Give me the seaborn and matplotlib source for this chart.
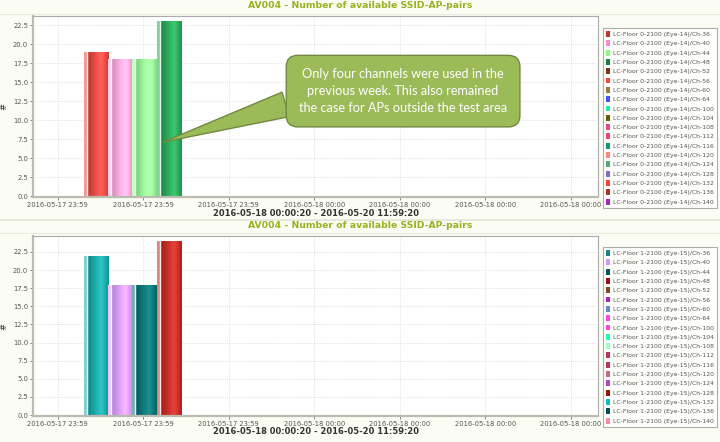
import matplotlib
matplotlib.use("Agg")
import matplotlib.pyplot as plt
from matplotlib.patches import Patch
from matplotlib.colors import to_rgb
import numpy as np
import pandas as pd
import seaborn as sns

# ---------------------------
# data
# ---------------------------
title = "AV004 - Number of available SSID-AP-pairs"
period = "2016-05-18 00:00:20 - 2016-05-20 11:59:20"
tick_labels = ["2016-05-17 23:59"] * 3 + ["2016-05-18 00:00"] * 4
tick_pos = [0, 1, 2, 3, 4, 5, 6]

channels = ["36", "40", "44", "48", "52", "56", "60", "64", "100", "104",
            "108", "112", "116", "120", "124", "128", "132", "136", "140"]

# bar slots on the time axis (tick units)
slots = [0.446, 0.731, 1.016, 1.301]

floor0_channels = ["36", "40", "44", "48"]
floor0_counts = [19, 18, 18, 23]
floor0_bar_colors = ["#e8433a", "#ffaadf", "#96fb96", "#1fa853"]
floor0_legend_colors = ["#c0362c", "#ff88cc", "#88ff77", "#1a7f3a", "#7a3516",
                        "#ff4433", "#9c7a3c", "#4455ff", "#22eeaa", "#665a00",
                        "#ee4488", "#ee4477", "#119977", "#ff8877", "#55aa77",
                        "#8866cc", "#ff4433", "#aa3322", "#aa22bb"]

floor1_channels = ["36", "40", "44", "48"]
floor1_counts = [22, 18, 18, 24]
floor1_bar_colors = ["#10a8a8", "#dd9cff", "#007272", "#c8241c"]
floor1_legend_colors = ["#118888", "#cc99ff", "#005555", "#991111", "#8a4422",
                        "#aa22bb", "#6688cc", "#ff44ee", "#ff44ee", "#22ffaa",
                        "#99ffbb", "#bb3355", "#bb3355", "#cc6688", "#bb44bb",
                        "#991100", "#11bbcc", "#005555", "#ff88aa"]

note = ("Only four channels were used in the\n"
        "previous week. This also remained\n"
        "the case for APs outside the test area")


def gradient_bars(ax):
    # JFreeChart-like shading: pale sliver, white line, then dark -> light
    t = np.linspace(0, 1, 60)
    for bar in list(ax.patches):
        c = np.array(to_rgb(bar.get_facecolor()))
        white = np.ones(3)
        cols = []
        for v in t:
            if v < 0.11:
                cols.append(c * 0.55 + white * 0.45)
            elif v < 0.16:
                cols.append(white)
            elif v < 0.7:
                k = (v - 0.16) / 0.54
                cols.append(c * (0.82 + 0.18 * k) + white * 0.12 * k)
            else:
                k = (v - 0.7) / 0.3
                cols.append(c * (1.0 - 0.12 * k) + white * 0.12 * (1 - k))
        img = np.clip(np.array(cols), 0, 1)[None, :, :]
        x, y = bar.get_x(), bar.get_y()
        w, h = bar.get_width(), bar.get_height()
        im = ax.imshow(img, extent=[x, x + w, y, y + h], aspect="auto",
                       interpolation="bilinear", zorder=bar.get_zorder() + 0.1)
        im.set_clip_path(bar)


# ---------------------------
# figure
# ---------------------------
sns.set_style("white")
plt.rcParams["font.family"] = ["DejaVu Sans"]

W, H = 720, 442
fig = plt.figure(figsize=(7.2, 4.42), dpi=100, facecolor="#fbfcf3")

panels = [
    dict(floor="0", eye="14", chans=floor0_channels, counts=floor0_counts,
         bar_colors=floor0_bar_colors, legend_colors=floor0_legend_colors,
         top=16, bottom=197, ymax=23.7, title_y=5, xlabel_y=213, leg_top=28),
    dict(floor="1", eye="15", chans=floor1_channels, counts=floor1_counts,
         bar_colors=floor1_bar_colors, legend_colors=floor1_legend_colors,
         top=236, bottom=416, ymax=24.7, title_y=226, xlabel_y=432, leg_top=247),
]

axes = []
for p in panels:
    ax = fig.add_axes([33 / W, 1 - p["bottom"] / H, 565 / W, (p["bottom"] - p["top"]) / H])
    ax.set_facecolor("white")
    df = pd.DataFrame({"slot": slots, "count": p["counts"], "channel": p["chans"]})
    pal = dict(zip(p["chans"], p["bar_colors"]))
    sns.barplot(data=df, x="slot", y="count", hue="channel", palette=pal,
                native_scale=True, width=1.0, dodge=False, saturation=1,
                legend=False, edgecolor="white", linewidth=0.8, ax=ax)
    gradient_bars(ax)

    ax.set_xlim(-0.29, 6.32)
    ax.set_ylim(-0.12, p["ymax"])
    ax.set_xticks(tick_pos)
    ax.set_xticklabels(tick_labels)
    ax.set_yticks([i * 2.5 for i in range(10)])
    ax.set_yticklabels([f"{i * 2.5:.1f}" for i in range(10)])
    ax.tick_params(axis="both", labelsize=4.9, colors="#555555", length=2,
                   width=0.5, pad=1.5, direction="out", bottom=True, left=True)
    ax.grid(True, color="#d8d8d8", linestyle=(0, (1, 1.5)), linewidth=0.6)
    ax.set_axisbelow(True)
    for side, sp in ax.spines.items():
        sp.set_color("#aaaaaa")
        sp.set_linewidth(0.8)
    ax.spines["left"].set_linewidth(1.6)
    ax.spines["bottom"].set_linewidth(1.6)
    ax.spines["left"].set_color("#bbbbb0")
    ax.spines["bottom"].set_color("#bbbbb0")
    ax.set_xlabel("")
    ax.set_ylabel("#", fontsize=6, color="#333333", labelpad=3)

    fig.text(360 / W, 1 - p["title_y"] / H, title, ha="center", va="center",
             fontsize=6.7, fontweight="bold", color="#99b020")
    fig.text(316 / W, 1 - p["xlabel_y"] / H, period, ha="center", va="center",
             fontsize=6, fontweight="bold", color="#333333")

    handles = [Patch(facecolor=c, edgecolor="none") for c in p["legend_colors"]]
    labels = [f"LC-Floor {p['floor']}-2100 (Eye-{p['eye']})/Ch-{c}" for c in channels]
    leg = fig.legend(handles, labels, loc="upper left",
                     bbox_to_anchor=(603 / W, 1 - p["leg_top"] / H),
                     fontsize=4.4, frameon=True, fancybox=False,
                     handlelength=0.6, handleheight=1.1, handletextpad=0.5,
                     labelspacing=0.54, borderpad=0.5, borderaxespad=0)
    leg.get_frame().set_edgecolor("#999999")
    leg.get_frame().set_linewidth(0.8)
    for t in leg.get_texts():
        t.set_color("#555555")
    axes.append(ax)

# separator between the two charts
fig.add_artist(plt.Line2D([0, 1], [1 - 220 / H, 1 - 220 / H], color="#e2e6d6", linewidth=1.2))
fig.add_artist(plt.Line2D([0, 1], [1 - 14 / H, 1 - 14 / H], color="#e8ecdc", linewidth=0.8))
fig.add_artist(plt.Line2D([0, 1], [1 - 233 / H, 1 - 233 / H], color="#e8ecdc", linewidth=0.8))

# callout on the upper chart
axes[0].annotate(note, xy=(1.23, 7.1), xycoords="data",
                 xytext=(0.655, 0.585), textcoords="axes fraction",
                 ha="center", va="center", fontsize=9.2, color="white",
                 family=["Lato", "DejaVu Sans"], linespacing=1.5,
                 bbox=dict(boxstyle="round,pad=1.0,rounding_size=0.9",
                           fc="#9bbb59", ec="#71893f", lw=1.0),
                 arrowprops=dict(arrowstyle="wedge,tail_width=2.0,shrink_factor=0.5",
                                 fc="#9bbb59", ec="#71893f", lw=1.0,
                                 shrinkA=0, shrinkB=0, relpos=(0.0, 0.3)))

fig.savefig("out.png", dpi=100, facecolor=fig.get_facecolor())
